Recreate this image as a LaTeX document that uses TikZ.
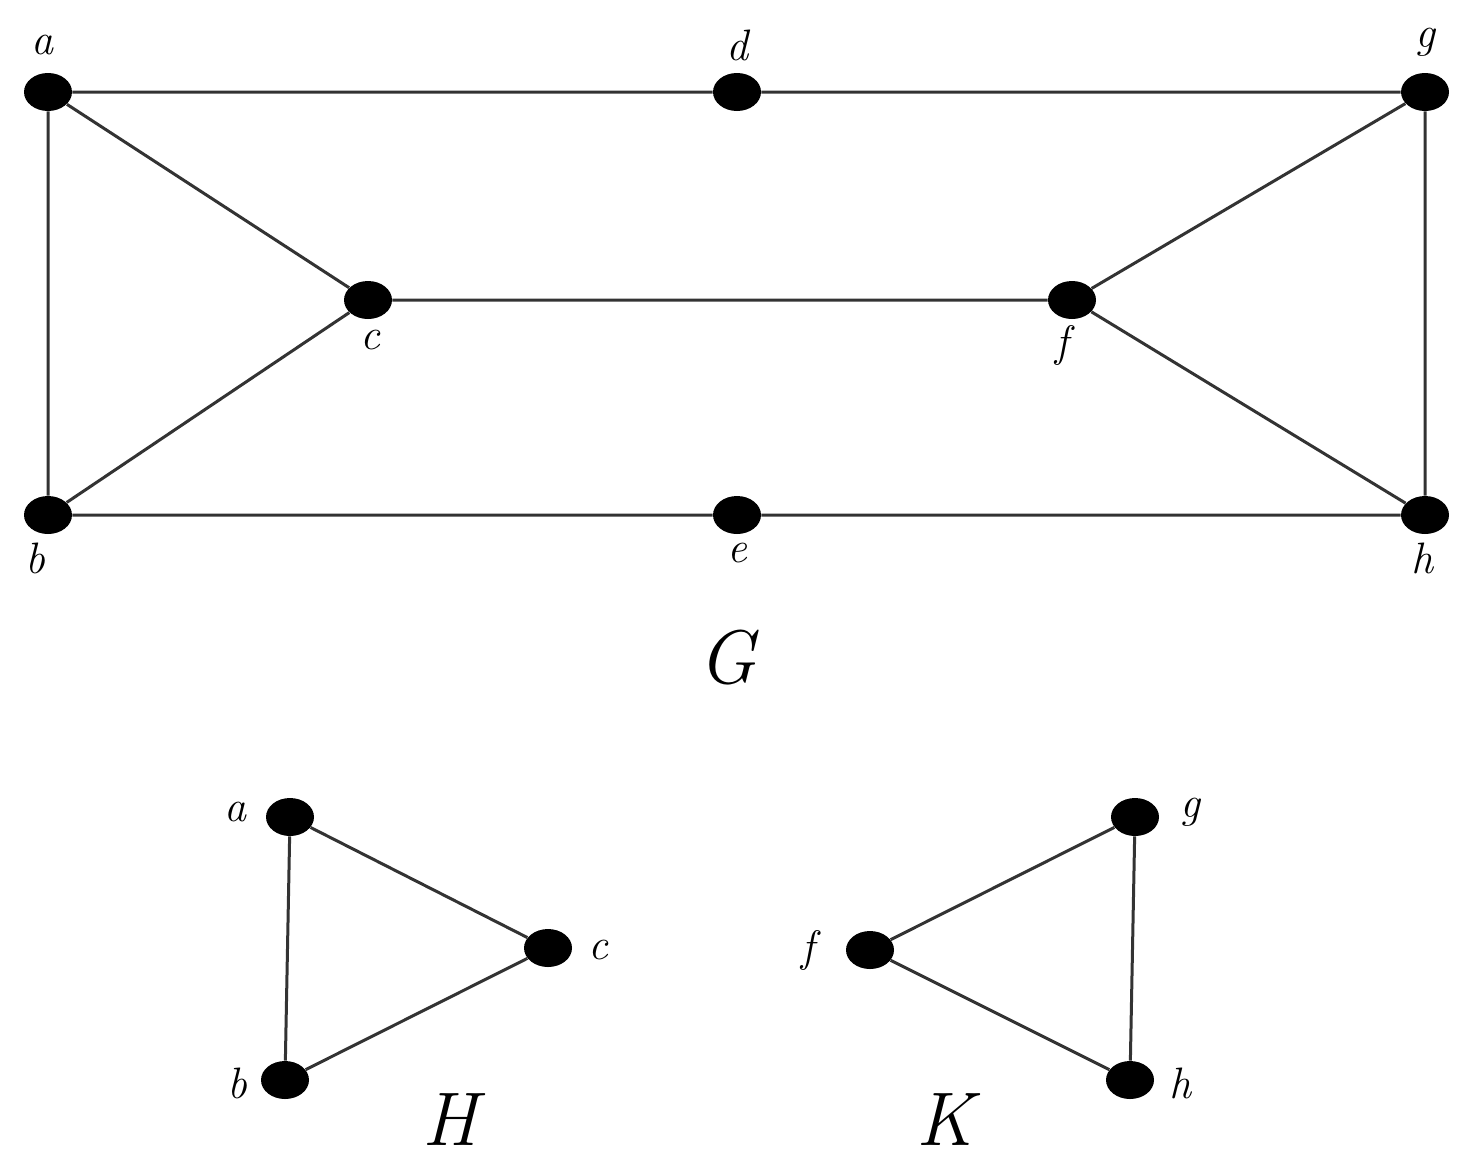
\documentclass[tikz,border=0pt]{standalone}
\usetikzlibrary{shapes.geometric}
\begin{document}
\begin{tikzpicture}[x=0.5pt,y=-0.5pt,
  vtx/.style={ellipse,fill=black,minimum width=24pt,minimum height=19pt,inner sep=0pt},
  lab/.style={font=\fontsize{22}{26}\selectfont\itshape},
  big/.style={font=\fontsize{38}{44}\selectfont\itshape},
  edge/.style={line width=1.5pt,black!80}]
\useasboundingbox (0,0) rectangle (1475,1174);
\foreach \n/\x/\y in {a/48/92,d/737/92,g/1425/92,c/368/300,f/1072/300,b/48/515,e/737/515,h/1425/515,
  Ha/290/817,Hc/548/948,Hb/285/1080,Kg/1135/817,Kf/870/950,Kh/1130/1080}
  \node[vtx] (\n) at (\x,\y) {};
\draw[edge] (a)--(d)--(g) (a)--(c)--(b) (a)--(b) (c)--(f) (g)--(f)--(h) (g)--(h) (b)--(e)--(h);
\draw[edge] (Ha)--(Hc)--(Hb)--(Ha) (Kg)--(Kf)--(Kh)--(Kg);
\foreach \n/\t/\x/\y in {la/a/42/45,ld/d/737/45,lg/g/1425/42,lc/c/370/340,lf/f/1062/345,lb/b/35/558,le/e/737/553,lh/h/1422/558,
  lHa/a/235/812,lHc/c/598/950,lHb/b/237/1083,lKg/g/1190/812,lKf/f/808/950,lKh/h/1180/1083}
  \node[lab] (\n) at (\x,\y) {\t};
\node[big] (G) at (727,658) {G};
\node[big] (H) at (450,1120) {H};
\node[big] (K) at (945,1120) {K};
\end{tikzpicture}
\end{document}
